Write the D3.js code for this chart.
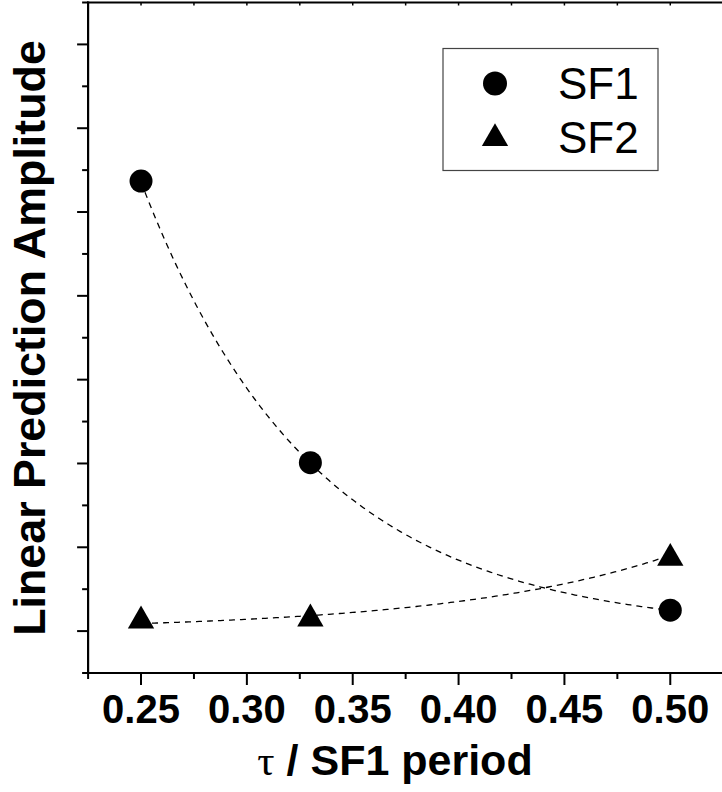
<!DOCTYPE html>
<html>
<head>
<meta charset="utf-8">
<script src="https://cdn.jsdelivr.net/npm/d3@7"></script>
<style>
  html, body { margin: 0; padding: 0; background: #fff; }
  svg { display: block; }
</style>
</head>
<body>
<svg id="chart" width="722" height="792"></svg>
<script>
// ---- data (y axis has no labels, arbitrary units) ----
const xValues = [0.25, 0.33, 0.50];
const sf1Values = [5.37, 2.01, 0.25];
const sf2Values = [0.167, 0.191, 0.913];
const seriesNames = ["SF1", "SF2"];
const xTickValues = [0.25, 0.30, 0.35, 0.40, 0.45, 0.50];
const xTickLabels = ["0.25", "0.30", "0.35", "0.40", "0.45", "0.50"];
// exponential fit parameters: y = y0 + A * exp(k * x)
const sf1Fit = { y0: 0.0, A: 116.0, k: -12.3 };
const sf2Fit = { y0: 0.0067, A: 0.00776, k: 9.5 };

const svg = d3.select("#chart");
const font = "'Liberation Sans', Arial, Helvetica, sans-serif";

const x = d3.scaleLinear().domain([0.225, 0.525]).range([88.1, 723.2]);
const y = d3.scaleLinear().domain([-0.5, 7.5]).range([673, 2.5]);

const majorX = d3.range(0, 7).map(i => 0.225 + i * 0.05 + 0.025);
const minorX = d3.range(0, 7).map(i => 0.225 + i * 0.05);
const majorY = d3.range(0, 8);
const minorY = d3.range(0, 9).map(i => i - 0.5);

// bottom axis
const gx = svg.append("g").attr("transform", `translate(0,${y(-0.5)})`);
gx.append("line").attr("x1", x(0.225) - 1).attr("x2", 722).attr("stroke", "#000").attr("stroke-width", 2.2);
gx.selectAll("line.maj").data(majorX).join("line").attr("class", "maj")
  .attr("x1", d => x(d)).attr("x2", d => x(d)).attr("y1", 0).attr("y2", 12)
  .attr("stroke", "#000").attr("stroke-width", 2);
gx.selectAll("line.min").data(minorX).join("line").attr("class", "min")
  .attr("x1", d => x(d)).attr("x2", d => x(d)).attr("y1", 0).attr("y2", 6)
  .attr("stroke", "#000").attr("stroke-width", 2);
gx.selectAll("text").data(xTickValues).join("text")
  .attr("x", d => x(d)).attr("y", 50)
  .attr("text-anchor", "middle")
  .attr("font-family", font).attr("font-weight", "bold").attr("font-size", 40)
  .text((d, i) => xTickLabels[i]);

// top frame line
const gt = svg.append("g").attr("transform", `translate(0,${y(7.5)})`);
gt.append("line").attr("x1", x(0.225) - 1).attr("x2", 722).attr("stroke", "#000").attr("stroke-width", 2.2);
gt.selectAll("line.t").data(majorX.concat(minorX)).join("line").attr("class", "t")
  .attr("x1", d => x(d)).attr("x2", d => x(d)).attr("y1", 0).attr("y2", 3)
  .attr("stroke", "#000").attr("stroke-width", 1.5);

// left axis
const gy = svg.append("g").attr("transform", `translate(${x(0.225)},0)`);
gy.append("line").attr("y1", y(7.5) - 1).attr("y2", y(-0.5) + 1).attr("stroke", "#000").attr("stroke-width", 2.2);
gy.selectAll("line.maj").data(majorY).join("line").attr("class", "maj")
  .attr("y1", d => y(d)).attr("y2", d => y(d)).attr("x1", 0).attr("x2", -11)
  .attr("stroke", "#000").attr("stroke-width", 2);
gy.selectAll("line.min").data(minorY).join("line").attr("class", "min")
  .attr("y1", d => y(d)).attr("y2", d => y(d)).attr("x1", 0).attr("x2", -6)
  .attr("stroke", "#000").attr("stroke-width", 2);

// axis titles
const xt = svg.append("text").attr("x", 395).attr("y", 775)
  .attr("text-anchor", "middle")
  .attr("font-family", font).attr("font-weight", "bold").attr("font-size", 43);
xt.append("tspan").attr("font-family", "'Liberation Serif', 'Times New Roman', serif")
  .attr("font-weight", "normal").text("τ");
xt.append("tspan").text(" / SF1 period");

svg.append("text")
  .attr("transform", `translate(45,338) rotate(-90)`)
  .attr("text-anchor", "middle")
  .attr("font-family", font).attr("font-weight", "bold").attr("font-size", 44.8)
  .text("Linear Prediction Amplitude");

// fit curves
function fitCurve(f) {
  const xs = d3.range(0, 201).map(i => 0.25 + i * (0.25 / 200));
  return xs.map(v => [v, f.y0 + f.A * Math.exp(f.k * v)]);
}
const line = d3.line().x(d => x(d[0])).y(d => y(d[1]));
[sf1Fit, sf2Fit].forEach(f => {
  svg.append("path").attr("d", line(fitCurve(f)))
    .attr("fill", "none").attr("stroke", "#000").attr("stroke-width", 1.3)
    .attr("stroke-dasharray", "6,5");
});

// markers
const triangle = d3.symbol().type(d3.symbolTriangle).size(300);
svg.selectAll("circle.sf1").data(xValues).join("circle").attr("class", "sf1")
  .attr("cx", d => x(d)).attr("cy", (d, i) => y(sf1Values[i])).attr("r", 11.5)
  .attr("fill", "#000");
svg.selectAll("path.sf2").data(xValues).join("path").attr("class", "sf2")
  .attr("d", triangle)
  .attr("transform", (d, i) => `translate(${x(d)},${y(sf2Values[i]) + 3.7})`)
  .attr("fill", "#000");

// legend
const lg = svg.append("g");
lg.append("rect").attr("x", 443).attr("y", 48.5).attr("width", 215).attr("height", 122)
  .attr("fill", "#fff").attr("stroke", "#444").attr("stroke-width", 1.2);
lg.append("circle").attr("cx", 495).attr("cy", 83.5).attr("r", 12).attr("fill", "#000");
lg.append("path").attr("d", triangle).attr("transform", "translate(495,138.5)").attr("fill", "#000");
lg.selectAll("text").data(seriesNames).join("text")
  .attr("x", 558).attr("y", (d, i) => 98.5 + i * 54.5)
  .attr("font-family", font).attr("font-size", 44)
  .text(d => d);
</script>
</body>
</html>
